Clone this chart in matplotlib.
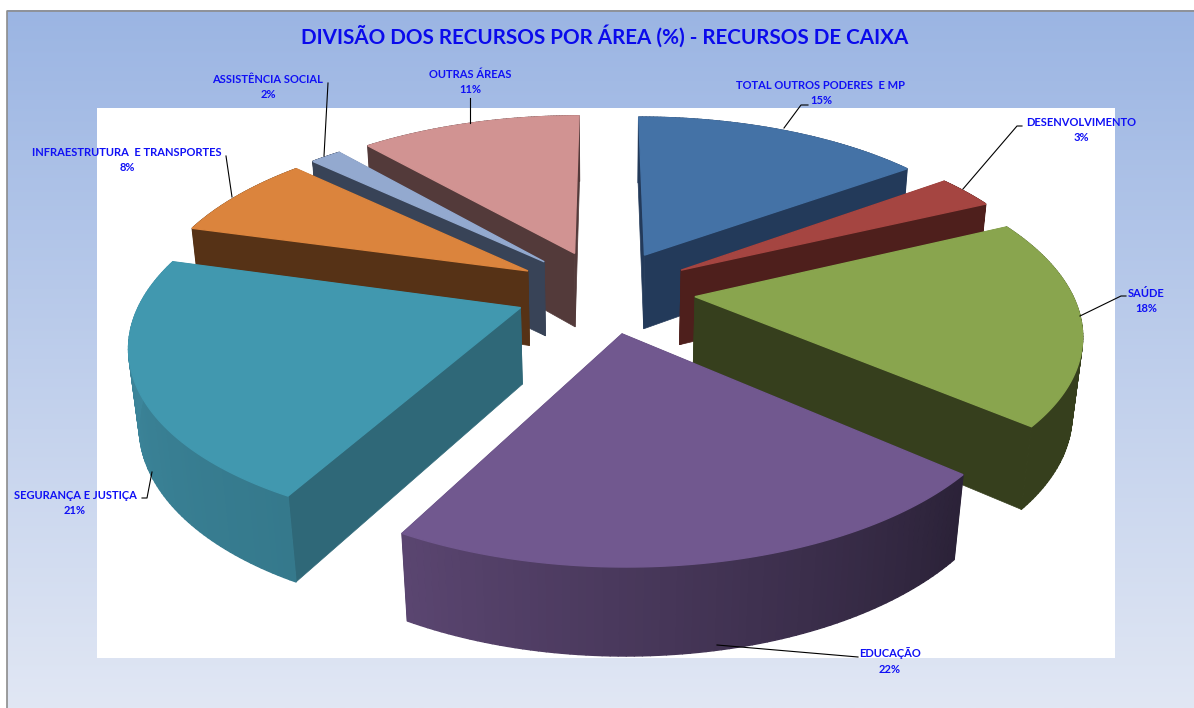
import matplotlib
matplotlib.use('Agg')

import matplotlib.pyplot as plt
from matplotlib.collections import PolyCollection
from matplotlib.colors import to_rgb
from matplotlib.patches import Polygon, Rectangle
import numpy as np

plt.rcParams['font.family'] = ['Lato', 'DejaVu Sans']

categories = ['TOTAL OUTROS PODERES  E MP', 'DESENVOLVIMENTO', 'SAÚDE', 'EDUCAÇÃO',
              'SEGURANÇA E JUSTIÇA', 'INFRAESTRUTURA  E TRANSPORTES', 'ASSISTÊNCIA SOCIAL', 'OUTRAS ÁREAS']
# valores estimados pelos angulos das fatias, os rotulos mostram o valor arredondado
values = [15, 3, 18.3, 21.6, 21.4, 7.7, 1.6, 11.4]

top_colors = ['#4472a6', '#a54541', '#89a54e', '#71588f', '#4198af', '#db843d', '#93a9cf', '#d19392']
cut_colors = ['#233a5a', '#4e1f1c', '#363f1d', '#2b2238', '#2f6878', '#563216', '#384357', '#533a3a']
# cor da borda externa, do inicio ao fim do arco
rim_start = ['#233a5a', '#4e1f1c', '#363f1d', '#2b2238', '#35798c', '#563216', '#384357', '#533a3a']
rim_end = ['#233a5a', '#4e1f1c', '#363f1d', '#5a4570', '#3f8aa0', '#563216', '#384357', '#533a3a']

# centro do rotulo (x, y) e linha de chamada em pixels
label_pos = [(821, 93), (1081, 130), (1146, 301), (890, 661), (75, 503), (127, 160), (268, 87), (470, 82)]
leaders = [[(784, 128), (801, 105), (808, 105)],
           [(963, 189), (1017, 126), (1022, 126)],
           [(1080, 316), (1121, 296), (1126, 296)],
           [(717, 645), (858, 657)],
           [(152, 472), (147, 498), (142, 498)],
           [(232, 197), (226, 156)],
           [(324, 156), (328, 83)],
           [(470, 123), (470, 98)]]

CX, CY = 605, 291
SCALE = 376.0
ELEV = np.radians(27.6)
DIST = 4.98
HEIGHT = 0.232
EXPLODE = 0.24


def project(x, y, z):
    """projeta do espaco da pizza para pixels"""
    w = DIST + y * np.cos(ELEV) - z * np.sin(ELEV)
    f = SCALE * DIST
    return CX + f * x / w, CY - f * (y * np.sin(ELEV) + z * np.cos(ELEV)) / w


fig = plt.figure(figsize=(11.94, 7.08), dpi=100)
ax = fig.add_axes([0, 0, 1, 1])
ax.set_xlim(0, 1194)
ax.set_ylim(708, 0)
ax.axis('off')

# fundo em degrade
grad = np.linspace(0, 1, 256).reshape(-1, 1)
c1, c2 = np.array(to_rgb('#9bb5e3')), np.array(to_rgb('#e1e7f4'))
img = c1 + (c2 - c1) * grad[..., None]
ax.imshow(img, extent=(7, 1194, 708, 10), aspect='auto', zorder=0)
ax.set_xlim(0, 1194)
ax.set_ylim(708, 0)
ax.plot([6.5, 6.5, 1194], [708, 10.5, 10.5], color='#8c8c8c', lw=1.2, zorder=1)
ax.add_patch(Rectangle((97, 108), 1018, 550, facecolor='white', edgecolor='none', zorder=1))

# angulos das fatias, sentido horario a partir do topo
total = sum(values)
edges = np.cumsum([0] + values) / total * 2 * np.pi
mids = (edges[:-1] + edges[1:]) / 2

# fatias de tras para a frente
order = np.argsort(-(np.cos(mids)))
z = 3
for i in order:
    ox, oy = EXPLODE * np.sin(mids[i]), EXPLODE * np.cos(mids[i])
    t = np.linspace(edges[i], edges[i + 1], 80)
    xr, yr = ox + np.sin(t), oy + np.cos(t)
    tx, ty = project(xr, yr, 0)
    bx, by = project(xr, yr, -HEIGHT)
    ax0, ay0 = project(ox, oy, 0)
    ax1, ay1 = project(ox, oy, -HEIGHT)

    # faces de corte
    for k in (0, -1):
        face = [(ax0, ay0), (tx[k], ty[k]), (bx[k], by[k]), (ax1, ay1)]
        ax.add_patch(Polygon(face, closed=True, facecolor=cut_colors[i], edgecolor=cut_colors[i], lw=0.5, zorder=z))
    z += 1

    # borda externa com degrade
    quads = [[(tx[k], ty[k]), (tx[k + 1], ty[k + 1]), (bx[k + 1], by[k + 1]), (bx[k], by[k])]
             for k in range(len(t) - 1)]
    c_a, c_b = np.array(to_rgb(rim_start[i])), np.array(to_rgb(rim_end[i]))
    mix = np.linspace(0, 1, len(quads))[:, None]
    cols = c_a * (1 - mix) + c_b * mix
    ax.add_collection(PolyCollection(quads, facecolors=cols, edgecolors=cols, linewidths=1.0, zorder=z))
    z += 1

    # tampa
    outline = [(ax0, ay0)] + list(zip(tx, ty))
    ax.add_patch(Polygon(outline, closed=True, facecolor=top_colors[i], edgecolor=top_colors[i], lw=1.0, zorder=z))
    z += 1

for pts in leaders:
    xs, ys = zip(*pts)
    ax.plot(xs, ys, color='black', lw=0.8, zorder=z)

for name, val, (lx, ly) in zip(categories, values, label_pos):
    ax.text(lx, ly, f'{name}\n{val:.0f}%', ha='center', va='center', fontsize=8.05, fontweight='bold',
            color='#1010f5', linespacing=1.5, zorder=z + 1)

ax.text(605, 36, 'DIVISÃO DOS RECURSOS POR ÁREA (%) - RECURSOS DE CAIXA', ha='center', va='center',
        fontsize=14.9, fontweight='bold', color='#0a0aec', zorder=z + 1)

fig.savefig('out.png', dpi=100)
